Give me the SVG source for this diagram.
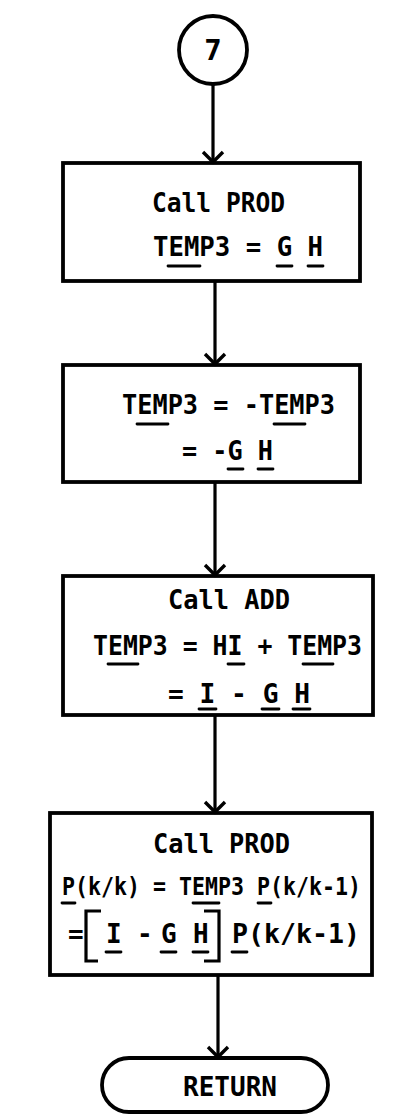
<svg xmlns="http://www.w3.org/2000/svg" width="415" height="1115" viewBox="0 0 415 1115">
<style>
.box{fill:none;stroke:#000;stroke-width:3.8}
.ln{fill:none;stroke:#000;stroke-width:3.2}
.ul{stroke:#000;stroke-width:2.8;stroke-linecap:round}
.t{font-family:"DejaVu Sans Mono","Liberation Mono",monospace;font-weight:bold;font-size:26px;fill:#000}
.s{font-size:21.6px}
</style>
<defs>
<marker id="ah" markerUnits="userSpaceOnUse" markerWidth="30" markerHeight="30" refX="15" refY="17" viewBox="0 0 30 30" orient="auto">
<path d="M5,7 L15,17 L25,7" fill="none" stroke="#000" stroke-width="3.4" transform="rotate(-90 15 17)"/>
</marker>
</defs>
<rect width="415" height="1115" fill="#fff"/>
<g id="connectors">
<path class="ln" d="M213,84 L213,162" marker-end="url(#ah)"/>
<path class="ln" d="M215,281 L215,364" marker-end="url(#ah)"/>
<path class="ln" d="M215,482 L215,575" marker-end="url(#ah)"/>
<path class="ln" d="M215,715 L215,812" marker-end="url(#ah)"/>
<path class="ln" d="M218,975 L218,1057" marker-end="url(#ah)"/>
</g>
<g id="n7">
<circle cx="213" cy="50" r="34" class="box" stroke-width="3"/>
<text class="t" x="213" y="60" text-anchor="middle" style="font-size:29px">7</text>
</g>
<g id="box1">
<rect class="box" x="63" y="163" width="297" height="118"/>
<text class="t" x="152" y="212" textLength="133" lengthAdjust="spacingAndGlyphs">Call PROD</text>
<text class="t" x="153" y="256" textLength="170" lengthAdjust="spacingAndGlyphs">TEMP3 = G H</text>
<line class="ul" x1="168" y1="266" x2="200" y2="266"/>
<line class="ul" x1="277" y1="266" x2="292" y2="266"/>
<line class="ul" x1="308" y1="266" x2="323" y2="266"/>
</g>
<g id="box2">
<rect class="box" x="63" y="365" width="297" height="117"/>
<text class="t" x="122" y="414" textLength="213" lengthAdjust="spacingAndGlyphs">TEMP3 = -TEMP3</text>
<line class="ul" x1="137" y1="424" x2="168" y2="424"/>
<line class="ul" x1="274" y1="424" x2="305" y2="424"/>
<text class="t" x="182" y="460" textLength="91" lengthAdjust="spacingAndGlyphs">= -G H</text>
<line class="ul" x1="228" y1="469" x2="243" y2="469"/>
<line class="ul" x1="258" y1="469" x2="273" y2="469"/>
</g>
<g id="box3">
<rect class="box" x="63" y="576" width="310" height="139"/>
<text class="t" x="168" y="609" textLength="122" lengthAdjust="spacingAndGlyphs">Call ADD</text>
<text class="t" x="93" y="655" textLength="269" lengthAdjust="spacingAndGlyphs">TEMP3 = HI + TEMP3</text>
<line class="ul" x1="108" y1="664" x2="138" y2="664"/>
<line class="ul" x1="228" y1="664" x2="244" y2="664"/>
<line class="ul" x1="303" y1="664" x2="333" y2="664"/>
<text class="t" x="168" y="703" textLength="142" lengthAdjust="spacingAndGlyphs">= I - G H</text>
<line class="ul" x1="199" y1="709" x2="216" y2="709"/>
<line class="ul" x1="262" y1="709" x2="279" y2="709"/>
<line class="ul" x1="293" y1="709" x2="310" y2="709"/>
</g>
<g id="box4">
<rect class="box" x="50" y="813" width="322" height="162"/>
<text class="t" x="153" y="853" textLength="137" lengthAdjust="spacingAndGlyphs">Call PROD</text>
<text class="t s" transform="translate(62,895) scale(1,1.18)" x="0" y="0">P(k/k) = TEMP3 P(k/k-1)</text>
<line class="ul" x1="62" y1="903" x2="75" y2="903"/>
<line class="ul" x1="193" y1="903" x2="219" y2="903"/>
<line class="ul" x1="258" y1="903" x2="271" y2="903"/>
<text class="t" x="68" y="943">=</text>
<path class="ln" d="M101,911 L86,911 L86,961 L98,961"/>
<text class="t" x="106" y="943">I</text>
<line class="ul" x1="106" y1="952" x2="121" y2="952"/>
<text class="t" x="137" y="943">-</text>
<text class="t" x="161" y="943">G</text>
<line class="ul" x1="161" y1="952" x2="176" y2="952"/>
<text class="t" x="193" y="943">H</text>
<line class="ul" x1="193" y1="952" x2="208" y2="952"/>
<path class="ln" d="M204,911 L219,911 L219,961 L204,961"/>
<text class="t" x="232" y="943" textLength="128" lengthAdjust="spacingAndGlyphs">P(k/k-1)</text>
<line class="ul" x1="232" y1="952" x2="247" y2="952"/>
</g>
<g id="ret">
<rect class="box" x="102" y="1058" width="226" height="54" rx="27" ry="27"/>
<text class="t" x="183" y="1096" textLength="94" lengthAdjust="spacingAndGlyphs">RETURN</text>
</g>
</svg>
